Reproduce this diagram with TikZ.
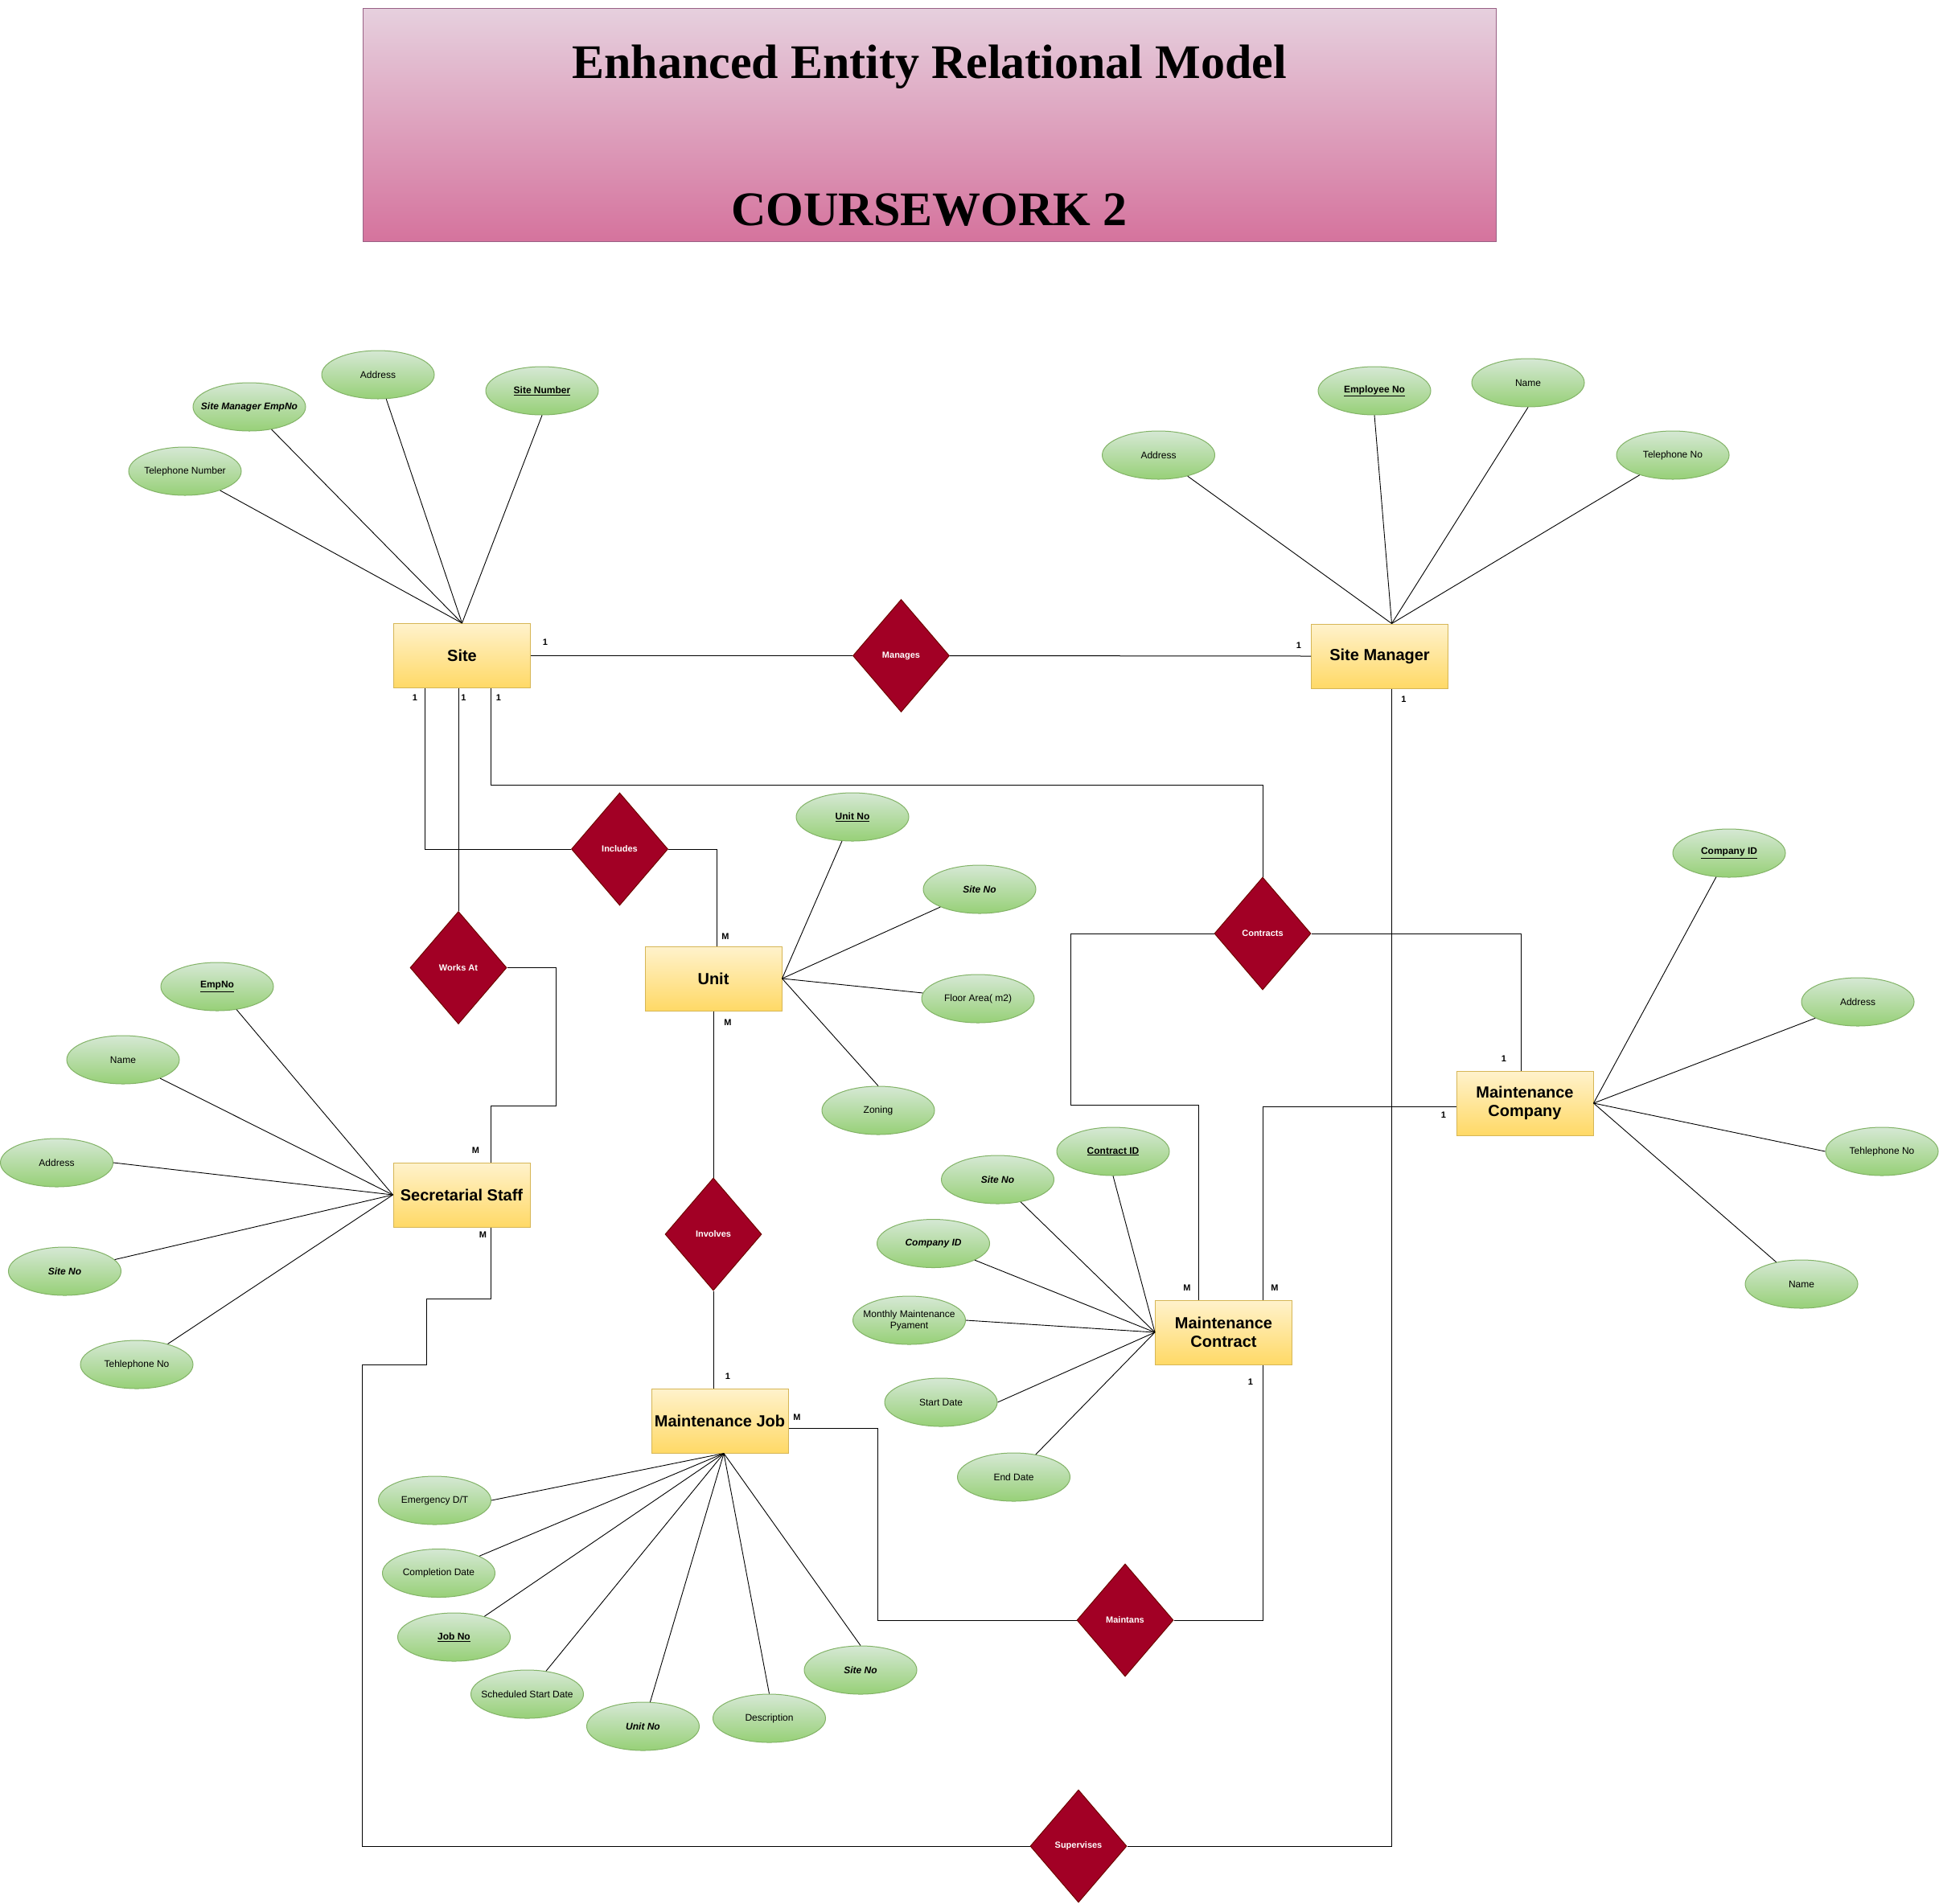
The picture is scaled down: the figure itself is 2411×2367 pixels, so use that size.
\documentclass[tikz,border=0pt]{standalone}
\usepackage{fontspec}
\setmainfont{Liberation Sans}
\newfontfamily\titlefont{Liberation Serif}
\usetikzlibrary{shapes.geometric,calc}
\definecolor{entTop}{HTML}{FFF2CC}
\definecolor{entBot}{HTML}{FFD966}
\definecolor{entLine}{HTML}{D6B656}
\definecolor{attTop}{HTML}{D5E8D4}
\definecolor{attBot}{HTML}{97D077}
\definecolor{attLine}{HTML}{82B366}
\definecolor{relFill}{HTML}{A20025}
\definecolor{relLine}{HTML}{6F0000}
\definecolor{ttlTop}{HTML}{E6D0DE}
\definecolor{ttlBot}{HTML}{D5739D}
\definecolor{ttlLine}{HTML}{996185}
\begin{document}
\begin{tikzpicture}[x=1pt,y=-1pt,
  entity/.style={rectangle,draw=entLine,line width=1pt,top color=entTop,bottom color=entBot,
    minimum width=170pt,minimum height=80pt,inner sep=0pt,align=center,
    font=\fontsize{20}{23.5}\selectfont\bfseries},
  attr/.style={ellipse,draw=attLine,line width=1pt,top color=attTop,bottom color=attBot,
    minimum width=140pt,minimum height=60pt,inner xsep=-30pt,inner ysep=-6pt,align=center,
    font=\fontsize{12}{14}\selectfont},
  attrkey/.style={attr,font=\fontsize{12}{14}\selectfont\bfseries},
  attrfk/.style={attr,font=\fontsize{12}{14}\selectfont\bfseries\itshape},
  rel/.style={diamond,draw=relLine,fill=relFill,line width=1pt,minimum width=120pt,minimum height=140pt,
    inner sep=0pt,text=white,font=\fontsize{11}{13}\selectfont\bfseries},
  card/.style={inner sep=0pt,font=\fontsize{11}{13}\selectfont\bfseries},
  conn/.style={draw=black,line width=1pt},
  alink/.style={draw=black,line width=0.9pt}
]
\useasboundingbox (0,0) rectangle (2411,2367);
\fill[white] (0,0) rectangle (2411,2367);

% title
\node[rectangle,draw=ttlLine,line width=1pt,top color=ttlTop,bottom color=ttlBot,
  minimum width=1409pt,minimum height=290pt,inner sep=0pt] (titlebox) at (1155.5,155) {};
\node[anchor=base,inner sep=0pt,font=\titlefont\fontsize{60}{66}\selectfont\bfseries] (title1) at (1155.5,97) {Enhanced Entity Relational Model};
\node[anchor=base,inner sep=0pt,font=\titlefont\fontsize{60}{66}\selectfont\bfseries] (title2) at (1155.5,280) {COURSEWORK 2};

% entities
\node[entity] (site) at (574.5,815.5) {Site};
\node[entity] (sm) at (1715.5,816) {Site Manager};
\node[entity] (unit) at (887,1217) {Unit};
\node[entity] (sec) at (574,1486) {Secretarial Staff};
\node[entity] (contract) at (1521.5,1657) {Maintenance\\Contract};
\node[entity] (job) at (895,1767) {Maintenance Job};
\node[entity] (company) at (1896,1372) {Maintenance\\Company};

% relationships
\node[rel] (manages) at (1120.5,815.5) {Manages};
\node[rel] (includes) at (770.5,1056) {Includes};
\node[rel] (worksat) at (570,1203.5) {Works At};
\node[rel] (contracts) at (1570,1161) {Contracts};
\node[rel] (involves) at (887,1535) {Involves};
\node[rel] (maintains) at (1399,2015) {Maintans};
\node[rel] (supervises) at (1341,2296) {Supervises};

% relationship connectors
\draw[conn] (site.east) -- (manages.west);
\draw[conn] (manages.east) -- (sm.west);
\draw[conn] ([xshift=39pt]site.south west) |- (includes.west);
\draw[conn] (worksat.north |- site.south) -- (worksat.north);
\draw[conn] ([xshift=121pt]site.south west) -- ++(0,120) -| (contracts.north);
\draw[conn] (includes.east) -| ([xshift=4pt]unit.north);
\draw[conn] (worksat.east) -- ++(61,0) -- ++(0,171.5) -| ([xshift=36pt]sec.north);
\draw[conn] ([xshift=36pt]sec.south) -- ++(0,88.5) -- ++(-80,0) -- ++(0,82) -- ++(-79.5,0) |- (supervises.west);
\draw[conn] (unit.south) -- (involves.north);
\draw[conn] (involves.south) -- (involves.south |- job.north);
\draw[conn] ([yshift=-9pt]job.east) -- ++(110.5,0) |- (maintains.west);
\draw[conn] (maintains.east) -| ([xshift=49pt]contract.south);
\draw[conn] ([xshift=-31pt]contract.north) -- ++(0,-242) -- ++(-159,0) |- (contracts.west);
\draw[conn] ([xshift=49pt]contract.north) |- ([yshift=-4pt]company.west);
\draw[conn] (contracts.east) -| ([xshift=-5pt]company.north);
\draw[conn] ([xshift=15pt]sm.south) |- (supervises.east);

% cardinalities
\node[card] (k1) at (678,799) {1};
\node[card] (k2) at (1615,803) {1};
\node[card] (k3) at (516,868) {1};
\node[card] (k4) at (576.5,868) {1};
\node[card] (k5) at (620,868) {1};
\node[card] (k6) at (902,1165) {M};
\node[card] (k7) at (905,1272) {M};
\node[card] (k8) at (591.5,1431) {M};
\node[card] (k9) at (600.5,1536) {M};
\node[card] (k10) at (905,1712) {1};
\node[card] (k11) at (991,1763) {M};
\node[card] (k12) at (1555,1719) {1};
\node[card] (k13) at (1476,1602) {M};
\node[card] (k14) at (1585,1602) {M};
\node[card] (k15) at (1795,1387) {1};
\node[card] (k16) at (1870,1317) {1};
\node[card] (k17) at (1745.5,870) {1};

% Site attributes
\node[attr] (sTel) at (230,586) {Telephone Number};
\node[attrfk] (sMgr) at (310,506) {Site Manager EmpNo};
\node[attr] (sAddr) at (470,466) {Address};
\node[attrkey] (sNum) at (674,486) {\underline{Site Number}};
\foreach \a in {sTel,sMgr,sAddr} \draw[alink] (\a) -- (site.north);
\draw[alink] (sNum.south) -- (site.north);

% Site Manager attributes
\node[attr] (mAddr) at (1440.5,566) {Address};
\node[attrkey] (mEmp) at (1709,486) {\underline{Employee No}};
\node[attr] (mName) at (1900,476) {Name};
\node[attr] (mTel) at (2080,566) {Telephone No};
\foreach \a in {mAddr,mTel} \draw[alink] (\a) -- ([xshift=15pt]sm.north);
\foreach \a in {mEmp,mName} \draw[alink] (\a.south) -- ([xshift=15pt]sm.north);

% Unit attributes
\node[attrkey] (uNo) at (1060,1016) {\underline{Unit No}};
\node[attrfk] (uSite) at (1218,1106) {Site No};
\node[attr] (uArea) at (1216,1242) {Floor Area( m2)};
\node[attr] (uZone) at (1092,1381) {Zoning};
\foreach \a in {uNo,uSite,uArea} \draw[alink] (\a) -- (unit.east);
\draw[alink] (uZone.north) -- (unit.east);

% Secretarial Staff attributes
\node[attrkey] (eEmp) at (270,1227) {\underline{EmpNo}};
\node[attr] (eName) at (153,1318) {Name};
\node[attr] (eAddr) at (70.5,1446) {Address};
\node[attrfk] (eSite) at (80.5,1581) {Site No};
\node[attr] (eTel) at (170,1697) {Tehlephone No};
\foreach \a in {eEmp,eName,eSite,eTel} \draw[alink] (\a) -- (sec.west);
\draw[alink] (eAddr.east) -- (sec.west);

% Maintenance Contract attributes
\node[attrkey] (cId) at (1384,1432) {\underline{Contract ID}};
\node[attrfk] (cSite) at (1240.5,1467) {Site No};
\node[attrfk] (cComp) at (1160.5,1546.5) {Company ID};
\node[attr] (cPay) at (1130.5,1642) {Monthly Maintenance\\Pyament};
\node[attr] (cStart) at (1170,1744) {Start Date};
\node[attr] (cEnd) at (1260.5,1837) {End Date};
\foreach \a in {cSite,cComp,cEnd} \draw[alink] (\a) -- (contract.west);
\draw[alink] (cId.south) -- (contract.west);
\draw[alink] (cPay.east) -- (contract.west);
\draw[alink] (cStart.east) -- (contract.west);

% Maintenance Job attributes
\node[attr] (jEm) at (540.5,1866) {Emergency D/T};
\node[attr] (jComp) at (545.5,1956.5) {Completion Date};
\node[attrkey] (jNo) at (564.5,2036) {\underline{Job No}};
\node[attr] (jSched) at (655.5,2107) {Scheduled Start Date};
\node[attrfk] (jUnit) at (799.5,2147) {Unit No};
\node[attr] (jDesc) at (956.5,2137) {Description};
\node[attrfk] (jSite) at (1070,2077) {Site No};
\foreach \a in {jComp,jNo,jSched,jUnit} \draw[alink] (\a) -- ([xshift=5pt]job.south);
\draw[alink] (jEm.east) -- ([xshift=5pt]job.south);
\draw[alink] (jDesc.north) -- ([xshift=5pt]job.south);
\draw[alink] (jSite.north) -- ([xshift=5pt]job.south);

% Maintenance Company attributes
\node[attrkey] (pId) at (2150,1061) {\underline{Company ID}};
\node[attr] (pAddr) at (2310,1246) {Address};
\node[attr] (pTel) at (2340,1432) {Tehlephone No};
\node[attr] (pName) at (2240,1597) {Name};
\foreach \a in {pId,pAddr,pName} \draw[alink] (\a) -- (company.east);
\draw[alink] (pTel.west) -- (company.east);
\end{tikzpicture}
\end{document}
